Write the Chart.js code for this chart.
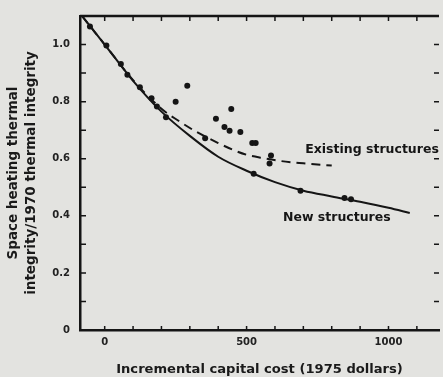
<!DOCTYPE html>
<html>
<head>
<meta charset="utf-8">
<script src="https://cdn.jsdelivr.net/npm/chart.js@4.4.0/dist/chart.umd.min.js"></script>
<style>
  html, body { margin: 0; padding: 0; background: #e3e3e0; }
  #wrap { width: 443px; height: 377px; position: relative; }
</style>
</head>
<body>
<div id="wrap"><canvas id="chart"></canvas></div>
<script>
// fitted curves (cost in 1975 dollars, thermal integrity ratio)
const newCurveCost = [-80, 0, 100, 200, 300, 400, 500, 600, 700, 800, 900, 1000, 1075];
const newCurveRatio = [1.1, 1.0, 0.873, 0.765, 0.68, 0.607, 0.558, 0.518, 0.488, 0.468, 0.449, 0.428, 0.41];
const oldCurveCost = [-80, 0, 100, 200, 260, 320, 400, 450, 500, 560, 620, 700, 800];
const oldCurveRatio = [1.1, 1.0, 0.875, 0.775, 0.733, 0.696, 0.655, 0.632, 0.614, 0.602, 0.592, 0.584, 0.576];

// measured points
const lowCostX = [-52, 6, 57, 80, 124, 165, 184, 216];
const lowCostY = [1.063, 0.997, 0.932, 0.894, 0.85, 0.812, 0.783, 0.745];
const oldPtsX = [250, 291, 354, 392, 422, 440, 446, 478, 520, 532, 581, 586];
const oldPtsY = [0.8, 0.856, 0.672, 0.74, 0.711, 0.698, 0.774, 0.694, 0.655, 0.655, 0.583, 0.611];
const newPtsX = [525, 690, 845, 868];
const newPtsY = [0.547, 0.488, 0.462, 0.458];

// axes
const xLabels = [0, 500, 1000];
const xMinor = [0, 100, 200, 300, 400, 500, 600, 700, 800, 900, 1000, 1100];
const yLabels = [0, 0.2, 0.4, 0.6, 0.8, 1.0];
const yMinor = [0.1, 0.2, 0.3, 0.4, 0.5, 0.6, 0.7, 0.8, 0.9, 1.0];

const notes = [
  { text: "Existing structures", x: 942, y: 0.633 },
  { text: "New structures", x: 818, y: 0.392 },
];

const ink = "#151515";
const font = "'DejaVu Sans', sans-serif";

function pts(xs, ys) {
  return xs.map((x, i) => ({ x: x, y: ys[i] }));
}

const frame = {
  id: "frame",
  afterDraw(chart) {
    const { ctx, chartArea: a, scales } = chart;
    const x = scales.x, y = scales.y;
    ctx.save();
    ctx.strokeStyle = ink;
    ctx.lineWidth = 1.5;
    ctx.beginPath();
    yMinor.forEach((v) => {
      const p = y.getPixelForValue(v);
      ctx.moveTo(a.left, p);
      ctx.lineTo(a.left + 6, p);
      ctx.moveTo(a.right, p);
      ctx.lineTo(a.right - 5, p);
    });
    xMinor.forEach((v) => {
      const p = x.getPixelForValue(v);
      ctx.moveTo(p, a.bottom);
      ctx.lineTo(p, a.bottom - 4);
      ctx.moveTo(p, a.top);
      ctx.lineTo(p, a.top + 5);
    });
    ctx.stroke();
    ctx.lineWidth = 2.5;
    ctx.beginPath();
    ctx.moveTo(a.left, a.top);
    ctx.lineTo(a.right, a.top);
    ctx.stroke();

    ctx.fillStyle = ink;
    ctx.font = "bold 12.5px " + font;
    ctx.textAlign = "center";
    ctx.textBaseline = "middle";
    notes.forEach((n) => {
      ctx.fillText(n.text, x.getPixelForValue(n.x), y.getPixelForValue(n.y));
    });
    ctx.restore();
  },
};

new Chart(document.getElementById("chart"), {
  type: "scatter",
  data: {
    datasets: [
      {
        data: pts(newCurveCost, newCurveRatio),
        showLine: true,
        borderColor: ink,
        borderWidth: 2,
        pointRadius: 0,
        cubicInterpolationMode: "monotone",
      },
      {
        data: pts(oldCurveCost, oldCurveRatio),
        showLine: true,
        borderColor: ink,
        borderWidth: 2,
        borderDash: [9, 6],
        pointRadius: 0,
        cubicInterpolationMode: "monotone",
      },
      { data: pts(lowCostX, lowCostY), pointRadius: 3, backgroundColor: ink, borderWidth: 0 },
      { data: pts(oldPtsX, oldPtsY), pointRadius: 3, backgroundColor: ink, borderWidth: 0 },
      { data: pts(newPtsX, newPtsY), pointRadius: 3, backgroundColor: ink, borderWidth: 0 },
    ],
  },
  options: {
    responsive: true,
    maintainAspectRatio: false,
    animation: false,
    layout: { padding: { top: 14, right: 0, left: 0, bottom: 0 } },
    plugins: { legend: { display: false }, tooltip: { enabled: false } },
    scales: {
      x: {
        type: "linear",
        min: -87,
        max: 1178,
        afterFit: (s) => { s.height = 47; },
        afterBuildTicks: (s) => { s.ticks = xLabels.map((v) => ({ value: v })); },
        grid: { display: false, drawTicks: false },
        border: { color: ink, width: 2.5 },
        ticks: {
          color: "#222",
          padding: 6,
          font: { family: font, size: 10, weight: "bold" },
          callback: (v) => String(v),
        },
        title: {
          display: true,
          text: "Incremental capital cost (1975 dollars)",
          color: "#1a1a1a",
          padding: { top: 5, bottom: 0 },
          font: { family: font, size: 13.1, weight: "bold" },
        },
      },
      y: {
        min: 0,
        max: 1.1,
        afterFit: (s) => { s.width = 80; },
        afterBuildTicks: (s) => { s.ticks = yLabels.map((v) => ({ value: v })); },
        grid: { display: false, drawTicks: false },
        border: { color: ink, width: 2.5 },
        ticks: {
          color: "#222",
          padding: 10,
          font: { family: font, size: 10, weight: "bold" },
          callback: (v) => (v === 0 ? "0" : v.toFixed(1)),
        },
        title: {
          display: true,
          text: ["Space heating thermal", "integrity/1970 thermal integrity"],
          color: "#1a1a1a",
          padding: { top: 5, bottom: 0 },
          font: { family: font, size: 13.5, weight: "bold", lineHeight: 1.3 },
        },
      },
    },
  },
  plugins: [frame],
});
</script>
</body>
</html>
